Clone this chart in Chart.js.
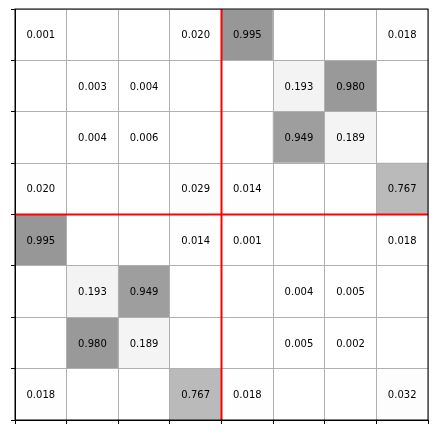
<!DOCTYPE html>
<html>
<head>
<meta charset="utf-8">
<script src="https://cdn.jsdelivr.net/npm/chart.js@4/dist/chart.umd.min.js"></script>
<style>
html, body { margin: 0; padding: 0; background: #fff; }
canvas { display: block; }
</style>
</head>
<body>
<canvas id="heat_canvas" width="438" height="435"></canvas>
<script>
// columns of the matrix, left to right
const cols = ['0', '1', '2', '3', '4', '5', '6', '7'];
// rows, top to bottom (null = empty cell)
const row0 = [0.001, null, null, 0.020, 0.995, null, null, 0.018];
const row1 = [null, 0.003, 0.004, null, null, 0.193, 0.980, null];
const row2 = [null, 0.004, 0.006, null, null, 0.949, 0.189, null];
const row3 = [0.020, null, null, 0.029, 0.014, null, null, 0.767];
const row4 = [0.995, null, null, 0.014, 0.001, null, null, 0.018];
const row5 = [null, 0.193, 0.949, null, null, 0.004, 0.005, null];
const row6 = [null, 0.980, 0.189, null, null, 0.005, 0.002, null];
const row7 = [0.018, null, null, 0.767, 0.018, null, null, 0.032];
const rows = [row0, row1, row2, row3, row4, row5, row6, row7];

const vmax = 2;
// matplotlib Greys
const greys = [1.0, 0.94117647, 0.85098039, 0.74117647, 0.58823529, 0.45098039, 0.32156863, 0.14509804, 0.0];

function greyColor(v) {
	if (v === null) return '#ffffff';
	let t = Math.min(Math.max(v / vmax, 0), 1) * 8;
	let i = Math.min(Math.floor(t), 7);
	let g = greys[i] + (greys[i + 1] - greys[i]) * (t - i);
	let c = Math.round(g * 255);
	return `rgb(${c},${c},${c})`;
}

// stacked from the bottom row up
const datasets = rows.slice().reverse().map((row, i) => ({
	label: 'row ' + (7 - i),
	data: cols.map(() => 1),
	cells: row,
	backgroundColor: row.map(greyColor),
	borderWidth: 0,
	barPercentage: 1,
	categoryPercentage: 1
}));

const cellText = {
	id: 'cellText',
	afterDraw(chart) {
		const c = chart.ctx;
		const xs = chart.scales.x, ys = chart.scales.y;
		const area = chart.chartArea;
		c.save();

		// red separators
		c.strokeStyle = '#ff0000';
		c.lineWidth = 2;
		c.beginPath();
		let mx = xs.getPixelForValue(3.5);
		let my = ys.getPixelForValue(4);
		c.moveTo(mx, area.top); c.lineTo(mx, area.bottom);
		c.moveTo(area.left, my); c.lineTo(area.right, my);
		c.stroke();

		// frame
		c.strokeStyle = '#000';
		c.lineWidth = 1;
		c.strokeRect(area.left, area.top, area.right - area.left, area.bottom - area.top);

		// values
		c.fillStyle = '#000';
		c.font = '10px "DejaVu Sans"';
		c.textAlign = 'center';
		c.textBaseline = 'alphabetic';
		chart.data.datasets.forEach((ds, i) => {
			chart.getDatasetMeta(i).data.forEach((bar, j) => {
				let v = ds.cells[j];
				if (v === null) return;
				let p = bar.getCenterPoint();
				c.fillText(v.toFixed(3), p.x, p.y + 3.6);
			});
		});
		c.restore();
	}
};

new Chart(document.getElementById('heat_canvas').getContext('2d'), {
	type: 'bar',
	data: { labels: cols, datasets: datasets },
	options: {
		responsive: false,
		animation: false,
		layout: { padding: { left: 11, top: 9, right: 10, bottom: 11 } },
		plugins: { legend: { display: false }, tooltip: { enabled: false } },
		scales: {
			x: {
				stacked: true,
				grid: { color: '#b0b0b0', tickColor: '#000', tickLength: 4, offset: true, z: 1 },
				border: { color: '#000', z: 2 },
				ticks: { display: false }
			},
			y: {
				stacked: true,
				min: 0,
				max: 8,
				grid: { color: '#b0b0b0', tickColor: '#000', tickLength: 4, z: 1 },
				border: { color: '#000', z: 2 },
				ticks: { display: false, stepSize: 1 }
			}
		}
	},
	plugins: [cellText]
});
</script>
</body>
</html>
